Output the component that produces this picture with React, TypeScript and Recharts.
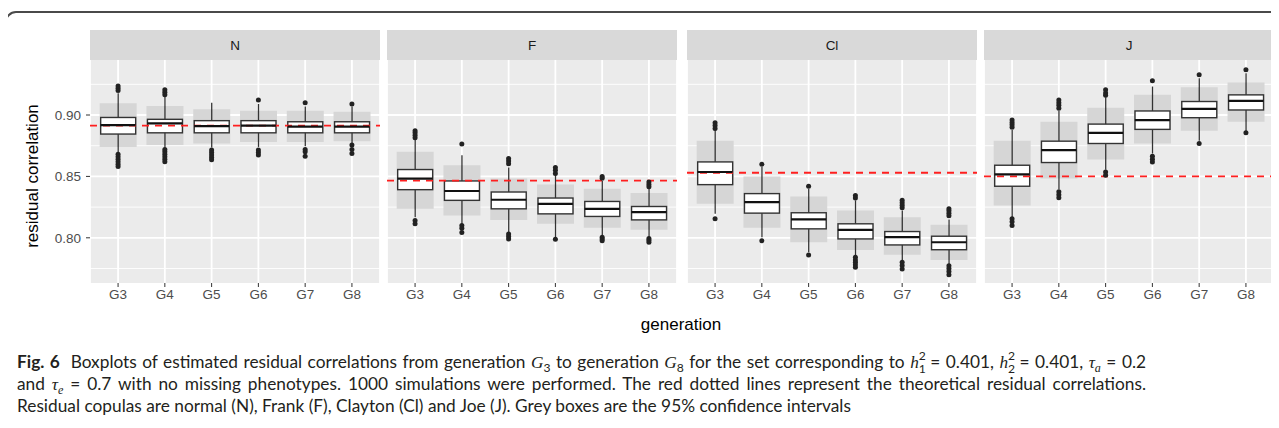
import React from 'react';
import {
  Bar,
  CartesianGrid,
  ComposedChart,
  ReferenceLine,
  Scatter,
  XAxis,
  YAxis,
} from 'recharts';

const GENERATIONS = [3, 4, 5, 6, 7, 8];
const COPULAS = ['N', 'F', 'Cl', 'J'];
// theoretical residual correlation per copula (red dashed line)
const THEORETICAL = [0.8913, 0.8465, 0.853, 0.85];

// one row per copula (N, F, Cl, J), one column per generation (G3..G8)
const CI_LO = [
  [0.874, 0.8755, 0.8768, 0.878, 0.878, 0.8787],
  [0.8236, 0.8182, 0.8146, 0.8114, 0.8081, 0.8065],
  [0.8277, 0.8081, 0.7964, 0.79, 0.7863, 0.7819],
  [0.8264, 0.8482, 0.8638, 0.8768, 0.8872, 0.8945],
];
const CI_HI = [
  [0.9095, 0.9074, 0.9046, 0.9035, 0.9035, 0.9027],
  [0.87, 0.8591, 0.8482, 0.8435, 0.84, 0.8365],
  [0.879, 0.85, 0.8337, 0.8223, 0.8168, 0.8106],
  [0.879, 0.8945, 0.906, 0.9164, 0.9226, 0.9265],
];
const Q1 = [
  [0.8845, 0.8855, 0.8855, 0.8855, 0.8855, 0.8855],
  [0.8392, 0.8305, 0.8236, 0.8195, 0.8174, 0.8146],
  [0.8433, 0.8201, 0.8073, 0.7991, 0.7942, 0.7903],
  [0.842, 0.8613, 0.8768, 0.8883, 0.8978, 0.9041],
];
const MEDIAN = [
  [0.8918, 0.8932, 0.891, 0.8913, 0.8905, 0.8905],
  [0.8482, 0.8381, 0.831, 0.8277, 0.8236, 0.8209],
  [0.8536, 0.8291, 0.815, 0.8065, 0.8005, 0.7964],
  [0.8517, 0.8714, 0.8855, 0.8959, 0.905, 0.9115],
];
const Q3 = [
  [0.898, 0.8965, 0.8954, 0.8954, 0.8945, 0.8945],
  [0.8556, 0.8463, 0.8373, 0.8324, 0.8296, 0.8255],
  [0.8618, 0.836, 0.8204, 0.8114, 0.8051, 0.8013],
  [0.8591, 0.8787, 0.8926, 0.9033, 0.911, 0.9164],
];
const WHISKER_LO = [
  [0.8686, 0.8735, 0.8735, 0.874, 0.8745, 0.8768],
  [0.8168, 0.8114, 0.8045, 0.8005, 0.8018, 0.8005],
  [0.8196, 0.8005, 0.7882, 0.7855, 0.7814, 0.7786],
  [0.8168, 0.8395, 0.8555, 0.8686, 0.879, 0.887],
];
const WHISKER_HI = [
  [0.9177, 0.915, 0.91, 0.909, 0.907, 0.907],
  [0.8796, 0.8673, 0.8572, 0.851, 0.8463, 0.84],
  [0.8877, 0.8577, 0.84, 0.8305, 0.8223, 0.815],
  [0.8877, 0.9035, 0.9145, 0.9232, 0.93, 0.934],
];
const OUTLIERS = [
  [
    [0.9237, 0.9218, 0.92, 0.868, 0.866, 0.864, 0.862, 0.86, 0.858],
    [0.9205, 0.9185, 0.9164, 0.872, 0.87, 0.868, 0.866, 0.864, 0.862],
    [0.8715, 0.8695, 0.8675, 0.8655, 0.8635],
    [0.9123, 0.8715, 0.8695, 0.8675],
    [0.91, 0.872, 0.87, 0.8665],
    [0.909, 0.8755, 0.872, 0.8686],
  ],
  [
    [0.8872, 0.8855, 0.8835, 0.8815, 0.814, 0.8114],
    [0.8763, 0.81, 0.8078, 0.8043],
    [0.8645, 0.8625, 0.8604, 0.8032, 0.801, 0.7991],
    [0.8572, 0.855, 0.8523, 0.7988],
    [0.85, 0.8485, 0.8005, 0.799, 0.7977],
    [0.8454, 0.8435, 0.8415, 0.7995, 0.798, 0.7964],
  ],
  [
    [0.8937, 0.8915, 0.889, 0.8155],
    [0.86, 0.7977],
    [0.8419, 0.786],
    [0.8345, 0.8325, 0.7841, 0.782, 0.78, 0.778, 0.776],
    [0.8305, 0.8285, 0.8265, 0.8245, 0.78, 0.7775, 0.7746],
    [0.8237, 0.822, 0.82, 0.818, 0.7773, 0.775, 0.7725, 0.77],
  ],
  [
    [0.896, 0.894, 0.892, 0.89, 0.8155, 0.813, 0.81],
    [0.9123, 0.91, 0.908, 0.9055, 0.8375, 0.835, 0.8326],
    [0.9205, 0.918, 0.916, 0.8535, 0.851],
    [0.928, 0.8665, 0.864, 0.8618],
    [0.9327, 0.8768],
    [0.9368, 0.8855],
  ],
];

const Y_MAJOR = [0.8, 0.85, 0.9];
const Y_MINOR = [0.775, 0.825, 0.875, 0.925];
const Y_DOMAIN = [0.7632, 0.9448];
const X_DOMAIN = [2.4, 8.6];

const PANEL_LEFT = [90, 387, 687, 984];
const PANEL_W = 290;
const PLOT_TOP = 60;
const PLOT_H = 223;
const Y_AXIS_W = 90;

const INK = '#333333';
const TICK_TEXT = { fill: '#4d4d4d', fontSize: 13.5 };

const Whisker = (p: any) => {
  const cx = p.x + p.width / 2;
  const top = Math.min(p.y, p.y + p.height);
  return <line x1={cx} x2={cx} y1={top} y2={top + Math.abs(p.height)} stroke={INK} strokeWidth={1.3} />;
};

const Box = (p: any) => {
  const top = Math.min(p.y, p.y + p.height);
  return (
    <rect x={p.x} y={top} width={p.width} height={Math.abs(p.height)} fill="#fff" stroke={INK} strokeWidth={1.4} />
  );
};

const Median = (p: any) => (
  <line x1={p.cx - 17.5} x2={p.cx + 17.5} y1={p.cy} y2={p.cy} stroke="#111" strokeWidth={2.2} />
);

const Outlier = (p: any) => <circle cx={p.cx} cy={p.cy} r={2.5} fill="#222" />;

function Panel({ idx }: { idx: number }) {
  const showY = idx === 0;
  const yWidth = showY ? Y_AXIS_W : 0;
  const rows = GENERATIONS.map((g, i) => ({
    gen: g,
    ci: [CI_LO[idx][i], CI_HI[idx][i]],
    whisker: [WHISKER_LO[idx][i], WHISKER_HI[idx][i]],
    box: [Q1[idx][i], Q3[idx][i]],
    median: MEDIAN[idx][i],
  }));
  const points = GENERATIONS.flatMap((g, i) => OUTLIERS[idx][i].map((v) => ({ gen: g, value: v })));

  return (
    <div style={{ position: 'absolute', left: PANEL_LEFT[idx] - yWidth, top: PLOT_TOP }}>
      <ComposedChart
        width={PANEL_W + yWidth}
        height={PLOT_H + 30}
        data={rows}
        margin={{ top: 0, right: 0, bottom: 0, left: 0 }}
      >
        <XAxis
          xAxisId="main"
          dataKey="gen"
          type="number"
          domain={X_DOMAIN}
          allowDataOverflow
          ticks={GENERATIONS}
          tickFormatter={(g) => `G${g}`}
          height={30}
          tickSize={4}
          tickMargin={2}
          axisLine={false}
          tickLine={{ stroke: INK }}
          tick={TICK_TEXT}
          interval={0}
        />
        {/* extra hidden axes so the three bar layers sit on top of each other */}
        <XAxis xAxisId="w" dataKey="gen" type="number" domain={X_DOMAIN} allowDataOverflow hide height={0} orientation="top" />
        <XAxis xAxisId="b" dataKey="gen" type="number" domain={X_DOMAIN} allowDataOverflow hide height={0} orientation="top" />
        <YAxis
          type="number"
          domain={Y_DOMAIN}
          allowDataOverflow
          ticks={Y_MAJOR}
          hide={!showY}
          width={yWidth}
          tickFormatter={(v) => v.toFixed(2)}
          tickSize={4}
          tickMargin={5}
          axisLine={false}
          tickLine={{ stroke: INK }}
          tick={TICK_TEXT}
        />
        <CartesianGrid
          xAxisId="main"
          fill="#ebebeb"
          fillOpacity={1}
          stroke="#ffffff"
          strokeWidth={0.9}
          vertical={false}
          horizontalValues={Y_MINOR}
        />
        <CartesianGrid xAxisId="main" stroke="#ffffff" strokeWidth={1.8} horizontalValues={Y_MAJOR} />
        <Bar xAxisId="main" dataKey="ci" fill="#d6d6d6" barSize={37} isAnimationActive={false} />
        <Bar xAxisId="w" dataKey="whisker" barSize={35} shape={Whisker} isAnimationActive={false} />
        <Bar xAxisId="b" dataKey="box" barSize={35} shape={Box} isAnimationActive={false} />
        <Scatter xAxisId="main" dataKey="median" shape={Median} isAnimationActive={false} />
        <Scatter xAxisId="main" data={points} dataKey="value" shape={Outlier} isAnimationActive={false} />
        <ReferenceLine xAxisId="main" y={THEORETICAL[idx]} stroke="#ff1f1f" strokeDasharray="7 6" strokeWidth={1.8} />
      </ComposedChart>
    </div>
  );
}

const SupSub = ({ sup, sub }: { sup: string; sub: string }) => (
  <span style={{ position: 'relative', display: 'inline-block', width: '0.5em', height: '1em', fontSize: '0.7em' }}>
    <span style={{ position: 'absolute', left: 0, top: '-0.45em', lineHeight: 1 }}>{sup}</span>
    <span style={{ position: 'absolute', left: 0, top: '0.6em', lineHeight: 1 }}>{sub}</span>
  </span>
);

const mathStyle = { fontFamily: '"Liberation Serif", serif', fontStyle: 'italic' as const };
const subStyle = { fontSize: '0.7em', lineHeight: 0 };
const justified = { textAlign: 'justify' as const, textAlignLast: 'justify' as const };

export default function App() {
  return (
    <div
      style={{
        position: 'relative',
        width: 1279,
        height: 428,
        margin: -8,
        overflow: 'hidden',
        background: '#fff',
        fontFamily: '"Liberation Sans", Arial, sans-serif',
      }}
    >
      <div
        style={{
          position: 'absolute',
          left: 5,
          top: 11,
          width: 1320,
          height: 520,
          border: '2px solid #4a4a4a',
          borderRadius: 11,
          boxSizing: 'border-box',
        }}
      />

      {COPULAS.map((c, i) => (
        <div
          key={c}
          style={{
            position: 'absolute',
            left: PANEL_LEFT[i],
            top: 30,
            width: PANEL_W,
            height: 30,
            background: '#d9d9d9',
            color: '#1a1a1a',
            fontSize: 13.5,
            lineHeight: '31px',
            textAlign: 'center',
          }}
        >
          {c}
        </div>
      ))}

      {COPULAS.map((c, i) => (
        <Panel key={c} idx={i} />
      ))}

      <div
        style={{
          position: 'absolute',
          left: 33 - 100,
          top: 176 - 11,
          width: 200,
          height: 22,
          lineHeight: '22px',
          textAlign: 'center',
          fontSize: 17,
          color: '#000',
          transform: 'rotate(-90deg)',
        }}
      >
        residual correlation
      </div>

      <div
        style={{
          position: 'absolute',
          left: 681 - 100,
          top: 325 - 11,
          width: 200,
          height: 22,
          lineHeight: '22px',
          textAlign: 'center',
          fontSize: 17,
          color: '#000',
        }}
      >
        generation
      </div>

      <div
        style={{
          position: 'absolute',
          left: 17,
          top: 351,
          width: 1129,
          fontFamily: 'Lato, "Open Sans", sans-serif',
          fontSize: 17.3,
          lineHeight: '21px',
          color: '#231f20',
          whiteSpace: 'nowrap',
        }}
      >
        <div style={justified}>
          <b>Fig. 6</b>&nbsp; Boxplots of estimated residual correlations from generation{' '}
          <span style={mathStyle}>G</span>
          <sub style={subStyle}>3</sub> to generation <span style={mathStyle}>G</span>
          <sub style={subStyle}>8</sub> for the set corresponding to <span style={mathStyle}>h</span>
          <SupSub sup="2" sub="1" /> = 0.401, <span style={mathStyle}>h</span>
          <SupSub sup="2" sub="2" /> = 0.401, <span style={mathStyle}>τ</span>
          <sub style={{ ...mathStyle, ...subStyle }}>a</sub> = 0.2
        </div>
        <div style={justified}>
          and <span style={mathStyle}>τ</span>
          <sub style={{ ...mathStyle, ...subStyle }}>e</sub> = 0.7 with no missing phenotypes. 1000 simulations were
          performed. The red dotted lines represent the theoretical residual correlations.
        </div>
        <div>
          Residual copulas are normal (N), Frank (F), Clayton (Cl) and Joe (J). Grey boxes are the 95% confidence
          intervals
        </div>
      </div>
    </div>
  );
}
